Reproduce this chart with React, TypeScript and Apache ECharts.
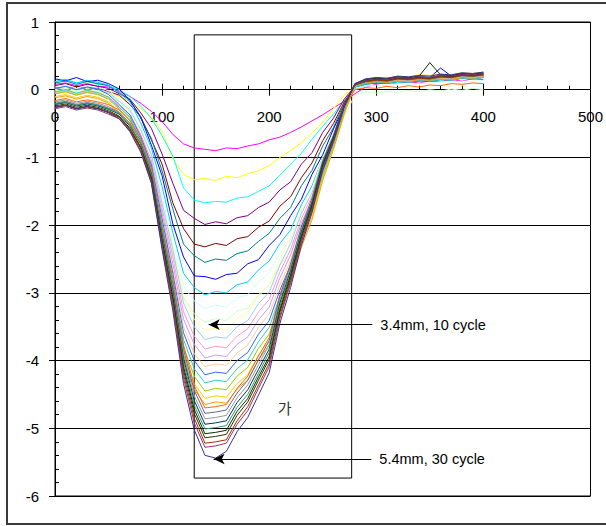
import React, { useEffect, useRef } from "react";
import * as echarts from "echarts";

// x positions shared by every curve
const xs = [0,10,20,30,40,50,60,70,80,90,100,110,120,130,140,150,160,170,180,190,200,210,220,230,240,250,260,270,280,290,300,310,320,330,340,350,360,370,380,390,400];

const c01 = [0.08,0.1,0.06,0.09,0.05,0.04,-0.02,-0.1,-0.2,-0.32,-0.47,-0.66,-0.8,-0.86,-0.88,-0.9,-0.86,-0.87,-0.83,-0.8,-0.74,-0.7,-0.63,-0.55,-0.46,-0.37,-0.27,-0.17,-0.06,0.04,0.08,0.11,0.09,0.12,0.1,0.13,0.12,0.15,0.13,0.16,0.15];
const c02 = [0.0,-0.04,0.02,-0.03,-0.02,-0.06,-0.1,-0.18,-0.28,-0.4,-0.62,-1.02,-1.25,-1.33,-1.31,-1.34,-1.28,-1.3,-1.24,-1.2,-1.12,-1.0,-0.9,-0.78,-0.64,-0.48,-0.28,-0.08,0.04,0.1,0.12,0.15,0.13,0.17,0.16,0.19,0.18,0.21,0.19,0.22,0.2];
const c03 = [0.12,0.15,0.1,0.13,0.08,0.06,0.0,-0.1,-0.24,-0.42,-0.68,-0.98,-1.45,-1.63,-1.67,-1.65,-1.66,-1.6,-1.58,-1.5,-1.42,-1.26,-1.1,-0.94,-0.73,-0.54,-0.36,-0.16,0.0,0.08,0.1,0.12,0.1,0.14,0.12,0.15,0.14,0.17,0.16,0.19,0.18];
const c04 = [0.06,0.09,0.04,0.08,0.05,0.02,-0.06,-0.14,-0.34,-0.57,-0.95,-1.38,-1.78,-1.9,-1.99,-1.95,-1.98,-1.89,-1.86,-1.74,-1.66,-1.48,-1.36,-1.1,-0.93,-0.63,-0.42,-0.14,0.05,0.1,0.12,0.11,0.14,0.13,0.16,0.15,0.17,0.16,0.2,0.18,0.21];
const c05 = [0.03,0.0,0.05,0.01,0.03,-0.03,-0.08,-0.22,-0.4,-0.74,-1.1,-1.67,-2.05,-2.28,-2.32,-2.27,-2.3,-2.2,-2.17,-2.03,-1.94,-1.72,-1.58,-1.3,-1.08,-0.75,-0.5,-0.18,0.04,0.09,0.11,0.1,0.13,0.12,0.15,0.14,0.16,0.18,0.17,0.2,0.19];
const c06 = [0.1,0.13,0.08,0.12,0.09,0.06,-0.04,-0.15,-0.42,-0.72,-1.2,-1.76,-2.28,-2.45,-2.55,-2.5,-2.52,-2.42,-2.38,-2.24,-2.12,-1.9,-1.74,-1.42,-1.19,-0.83,-0.56,-0.2,0.04,0.08,0.1,0.09,0.12,0.11,0.13,0.12,0.15,0.14,0.17,0.16,0.18];
const c07 = [0.16,0.13,0.18,0.12,0.14,0.09,0.01,-0.16,-0.4,-0.82,-1.27,-1.98,-2.47,-2.75,-2.76,-2.8,-2.73,-2.71,-2.57,-2.51,-2.3,-2.14,-1.86,-1.62,-1.25,-0.96,-0.58,-0.25,0.05,0.12,0.1,0.14,0.12,0.16,0.14,0.18,0.32,0.2,0.19,0.22,0.21];
const c08 = [0.12,0.15,0.1,0.14,0.11,0.07,-0.05,-0.18,-0.49,-0.86,-1.43,-2.11,-2.71,-2.92,-3.03,-2.98,-3.0,-2.88,-2.84,-2.66,-2.53,-2.27,-2.07,-1.7,-1.42,-1.0,-0.68,-0.26,0.03,0.09,0.11,0.1,0.13,0.12,0.15,0.13,0.16,0.15,0.18,0.17,0.19];
const c09 = [0.04,0.07,0.02,0.06,0.03,-0.01,-0.13,-0.27,-0.59,-0.98,-1.57,-2.27,-2.9,-3.12,-3.23,-3.18,-3.21,-3.07,-3.03,-2.84,-2.7,-2.41,-2.21,-1.82,-1.52,-1.06,-0.73,-0.28,0.02,0.05,0.07,0.06,0.09,0.08,0.1,0.09,0.12,0.11,0.13,0.12,0.14];
const c10 = [0.0,0.03,-0.02,0.02,-0.01,-0.06,-0.18,-0.33,-0.67,-1.07,-1.69,-2.43,-3.08,-3.31,-3.43,-3.38,-3.41,-3.27,-3.23,-3.03,-2.88,-2.59,-2.38,-1.98,-1.66,-1.19,-0.85,-0.4,-0.08,-0.03,-0.05,-0.02,-0.04,-0.01,-0.03,0.0,-0.02,0.01,-0.01,0.02,0.0];
const c11 = [-0.02,0.01,-0.04,0.0,-0.03,-0.08,-0.21,-0.33,-0.61,-0.95,-1.63,-2.3,-3.04,-3.39,-3.56,-3.52,-3.55,-3.38,-3.29,-3.05,-2.89,-2.5,-2.19,-1.77,-1.46,-1.0,-0.66,-0.26,0.05,0.12,0.14,0.13,0.16,0.15,0.18,0.17,0.2,0.19,0.22,0.21,0.23];
const c12 = [0.02,0.05,0.0,0.04,0.01,-0.04,-0.17,-0.3,-0.59,-0.96,-1.67,-2.36,-3.15,-3.5,-3.69,-3.65,-3.67,-3.5,-3.41,-3.16,-2.99,-2.59,-2.27,-1.83,-1.52,-1.04,-0.69,-0.27,0.05,0.1,0.12,0.11,0.14,0.13,0.15,0.14,0.17,0.16,0.19,0.18,0.2];
const c13 = [-0.04,-0.01,-0.06,-0.02,-0.05,-0.11,-0.24,-0.37,-0.66,-1.04,-1.76,-2.47,-3.28,-3.64,-3.83,-3.79,-3.81,-3.64,-3.53,-3.28,-3.1,-2.69,-2.36,-1.91,-1.57,-1.08,-0.71,-0.28,0.05,0.1,0.12,0.11,0.13,0.12,0.15,0.14,0.16,0.15,0.18,0.17,0.19];
const c14 = [-0.06,-0.03,-0.08,-0.04,-0.07,-0.13,-0.27,-0.4,-0.7,-1.09,-1.83,-2.57,-3.39,-3.76,-3.96,-3.92,-3.94,-3.76,-3.65,-3.4,-3.21,-2.78,-2.44,-1.97,-1.63,-1.12,-0.74,-0.3,0.05,0.14,0.16,0.15,0.17,0.16,0.19,0.18,0.2,0.19,0.22,0.21,0.23];
const c15 = [-0.05,-0.02,-0.07,-0.03,-0.06,-0.12,-0.26,-0.41,-0.71,-1.12,-1.89,-2.65,-3.5,-3.9,-4.09,-4.05,-4.07,-3.89,-3.77,-3.51,-3.31,-2.88,-2.52,-2.04,-1.68,-1.16,-0.77,-0.31,0.05,0.11,0.13,0.12,0.14,0.13,0.16,0.15,0.17,0.16,0.19,0.18,0.2];
const c16 = [0.02,0.05,0.0,0.04,0.01,-0.07,-0.22,-0.37,-0.69,-1.11,-1.91,-2.71,-3.59,-4.0,-4.21,-4.17,-4.19,-4.0,-3.88,-3.61,-3.41,-2.96,-2.59,-2.1,-1.73,-1.2,-0.79,-0.32,0.07,0.14,0.16,0.15,0.18,0.17,0.19,0.18,0.21,0.2,0.23,0.22,0.24];
const c17 = [-0.03,0.0,-0.05,-0.01,-0.04,-0.11,-0.26,-0.41,-0.74,-1.17,-1.98,-2.8,-3.69,-4.12,-4.33,-4.29,-4.31,-4.12,-3.99,-3.72,-3.51,-3.05,-2.67,-2.17,-1.78,-1.24,-0.81,-0.33,0.05,0.09,0.11,0.1,0.12,0.11,0.14,0.13,0.15,0.14,0.17,0.16,0.18];
const c18 = [-0.06,-0.03,-0.08,-0.04,-0.07,-0.14,-0.29,-0.44,-0.78,-1.22,-2.05,-2.89,-3.8,-4.23,-4.45,-4.41,-4.43,-4.23,-4.1,-3.82,-3.61,-3.14,-2.74,-2.23,-1.83,-1.28,-0.84,-0.34,0.05,0.12,0.14,0.13,0.16,0.15,0.17,0.16,0.19,0.18,0.21,0.2,0.22];
const c19 = [-0.1,-0.07,-0.12,-0.08,-0.11,-0.18,-0.34,-0.49,-0.83,-1.28,-2.13,-2.98,-3.91,-4.34,-4.56,-4.52,-4.54,-4.34,-4.21,-3.92,-3.7,-3.22,-2.81,-2.29,-1.88,-1.31,-0.86,-0.36,0.08,0.16,0.18,0.17,0.2,0.19,0.22,0.21,0.23,0.22,0.25,0.24,0.26];
const c20 = [-0.12,-0.09,-0.14,-0.1,-0.13,-0.2,-0.35,-0.52,-0.86,-1.32,-2.18,-3.04,-3.98,-4.42,-4.65,-4.61,-4.63,-4.42,-4.29,-3.99,-3.77,-3.28,-2.87,-2.33,-1.92,-1.34,-0.88,-0.36,0.06,0.1,0.12,0.11,0.13,0.12,0.15,0.14,0.16,0.15,0.18,0.17,0.19];
const c21 = [-0.16,-0.13,-0.18,-0.15,-0.18,-0.22,-0.3,-0.46,-0.72,-1.15,-2.02,-2.8,-3.77,-4.37,-4.7,-4.68,-4.65,-4.41,-4.23,-3.93,-3.66,-3.03,-2.57,-2.04,-1.62,-1.08,-0.72,-0.25,0.0,0.03,0.02,0.05,0.03,0.06,0.04,0.07,0.06,0.09,0.08,0.1,0.09];
const c22 = [-0.2,-0.17,-0.22,-0.19,-0.22,-0.27,-0.33,-0.5,-0.76,-1.19,-2.07,-2.87,-3.84,-4.44,-4.78,-4.76,-4.73,-4.48,-4.29,-3.99,-3.71,-3.05,-2.58,-2.03,-1.6,-1.05,-0.67,-0.23,0.07,0.13,0.15,0.14,0.17,0.16,0.18,0.17,0.2,0.19,0.22,0.21,0.23];
const c23 = [-0.18,-0.15,-0.2,-0.17,-0.2,-0.25,-0.33,-0.49,-0.75,-1.19,-2.09,-2.91,-3.91,-4.52,-4.86,-4.84,-4.81,-4.55,-4.36,-4.06,-3.77,-3.1,-2.62,-2.07,-1.63,-1.07,-0.68,-0.22,0.07,0.11,0.13,0.12,0.15,0.14,0.16,0.15,0.18,0.17,0.2,0.19,0.21];
const c24 = [-0.22,-0.19,-0.24,-0.21,-0.24,-0.29,-0.36,-0.54,-0.8,-1.24,-2.14,-2.97,-3.97,-4.59,-4.94,-4.92,-4.89,-4.62,-4.43,-4.13,-3.83,-3.15,-2.67,-2.1,-1.66,-1.08,-0.69,-0.22,0.07,0.14,0.16,0.15,0.18,0.17,0.19,0.18,0.21,0.2,0.23,0.22,0.24];
const c25 = [-0.21,-0.18,-0.23,-0.2,-0.23,-0.28,-0.35,-0.53,-0.8,-1.26,-2.17,-3.01,-4.02,-4.66,-5.01,-4.99,-4.96,-4.69,-4.5,-4.19,-3.88,-3.2,-2.71,-2.13,-1.68,-1.1,-0.7,-0.23,0.07,0.12,0.14,0.13,0.16,0.15,0.17,0.16,0.19,0.18,0.21,0.2,0.22];
const c26 = [-0.26,-0.23,-0.28,-0.25,-0.28,-0.33,-0.4,-0.59,-0.85,-1.3,-2.23,-3.07,-4.09,-4.72,-5.08,-5.06,-5.03,-4.75,-4.56,-4.24,-3.94,-3.25,-2.74,-2.16,-1.7,-1.11,-0.72,-0.24,0.09,0.15,0.17,0.16,0.19,0.18,0.2,0.4,0.22,0.21,0.24,0.23,0.25];
const c27 = [-0.24,-0.21,-0.26,-0.23,-0.26,-0.31,-0.39,-0.57,-0.85,-1.31,-2.25,-3.09,-4.14,-4.78,-5.14,-5.12,-5.09,-4.81,-4.61,-4.29,-3.98,-3.28,-2.78,-2.19,-1.72,-1.13,-0.72,-0.24,0.07,0.13,0.15,0.14,0.17,0.16,0.18,0.17,0.2,0.19,0.22,0.21,0.23];
const c28 = [-0.26,-0.23,-0.28,-0.25,-0.28,-0.33,-0.41,-0.59,-0.87,-1.34,-2.29,-3.15,-4.2,-4.85,-5.22,-5.2,-5.17,-4.89,-4.68,-4.36,-4.04,-3.34,-2.82,-2.23,-1.75,-1.15,-0.74,-0.24,0.07,0.12,0.14,0.13,0.16,0.15,0.17,0.16,0.19,0.18,0.21,0.2,0.22];
const c29 = [-0.28,-0.25,-0.3,-0.27,-0.3,-0.36,-0.43,-0.61,-0.9,-1.37,-2.32,-3.2,-4.26,-4.92,-5.28,-5.26,-5.22,-4.94,-4.74,-4.41,-4.09,-3.38,-2.85,-2.25,-1.77,-1.16,-0.75,-0.25,0.07,0.14,0.16,0.15,0.18,0.17,0.19,0.18,0.21,0.2,0.23,0.22,0.24];
const c30 = [-0.26,-0.23,-0.28,-0.25,-0.28,-0.34,-0.43,-0.62,-0.92,-1.38,-2.36,-3.26,-4.34,-5.02,-5.4,-5.44,-5.34,-5.05,-4.84,-4.51,-4.18,-3.45,-2.92,-2.3,-1.81,-1.19,-0.77,-0.26,0.09,0.16,0.18,0.17,0.2,0.19,0.21,0.2,0.23,0.22,0.25,0.24,0.26];

const curves = [c01,c02,c03,c04,c05,c06,c07,c08,c09,c10,c11,c12,c13,c14,c15,c16,c17,c18,c19,c20,c21,c22,c23,c24,c25,c26,c27,c28,c29,c30];
const curveColors = ["#FF00FF","#FFFF00","#00FFFF","#800080","#800000","#008080","#0000FF","#00CCFF","#CCFFFF","#CCFFCC","#FFFF99","#99CCFF","#FF99CC","#CC99FF","#FFCC99","#3366FF","#33CCCC","#99CC00","#FFCC00","#FF9900","#FF6600","#666699","#969696","#003366","#339966","#003300","#333300","#993300","#993366","#333399"];

// axes
const xMin = 0, xMax = 500, xStep = 100;
const yMin = -6, yMax = 1, yStep = 1;

// annotations (data coordinates)
const boxX = [130, 277];
const boxY = [0.81, -5.735];
const arrowLabels = ["3.4mm, 10 cycle", "5.4mm, 30 cycle"];
const arrowStartX = [296.3, 295.4];
const arrowEndX = [143.5, 148.1];
const arrowY = [-3.47, -5.454];
const arrowLabelPad = [9, 3];
const regionLabel = "가";
const regionLabelPos = [214.5, -4.69];

const FONT = "'Liberation Sans', Arial, sans-serif";
const GRID_H = 474;

export default function App() {
  const ref = useRef<HTMLDivElement>(null);
  useEffect(() => {
    if (!ref.current) return;
    const chart = echarts.init(ref.current, undefined, { renderer: "svg" });
    // x axis sits on y = 0: offset it up from the grid bottom
    const xAxisOffset = -GRID_H * (0 - yMin) / (yMax - yMin);
    const series: any[] = curves.map((vals, i) => ({
      type: "line",
      name: String(i + 1),
      data: xs.map((x, j) => [x, vals[j]]),
      showSymbol: false,
      symbol: "none",
      silent: true,
      lineStyle: { width: 1, color: curveColors[i] },
      itemStyle: { color: curveColors[i] },
      z: 2,
    }));
    series.push({
      type: "line",
      name: "annotations",
      data: [],
      silent: true,
      z: 5,
      markArea: {
        silent: true,
        itemStyle: { color: "rgba(0,0,0,0)", borderColor: "#000", borderWidth: 1 },
        label: { show: false },
        data: [[{ coord: [boxX[0], boxY[0]] }, { coord: [boxX[1], boxY[1]] }]],
      },
      markLine: {
        silent: true,
        symbol: ["none", "arrow"],
        symbolSize: [8, 11],
        lineStyle: { color: "#000", width: 1, type: "solid" },
        label: {
          show: true,
          position: "start",
          distance: 8,
          formatter: "{b}",
          fontSize: 14.5,
          fontFamily: FONT,
          color: "#000",
        },
        data: arrowLabels.map((name, i) => [
          { name, coord: [arrowStartX[i], arrowY[i]], label: { padding: [arrowLabelPad[i], 0, 0, 0] } },
          { coord: [arrowEndX[i], arrowY[i]] },
        ]),
      },
      markPoint: {
        silent: true,
        symbol: "circle",
        symbolSize: 0,
        itemStyle: { color: "rgba(0,0,0,0)" },
        label: {
          show: true,
          position: "inside",
          formatter: regionLabel,
          fontSize: 15,
          color: "#333",
          fontFamily: "'Noto Sans CJK KR', sans-serif",
        },
        data: [{ coord: regionLabelPos, value: 0 }],
      },
    });
    chart.setOption({
      animation: false,
      backgroundColor: "#fff",
      textStyle: { fontFamily: FONT },
      graphic: [
        {
          type: "rect",
          silent: true,
          z: 100,
          shape: { x: 7, y: 3, width: 640, height: 521 },
          style: { fill: "none", stroke: "#3a3a3a", lineWidth: 2 },
        },
      ],
      grid: {
        left: 55,
        top: 22,
        width: 540,
        height: GRID_H,
        show: true,
        borderColor: "#000",
        borderWidth: 1,
        backgroundColor: "transparent",
      },
      xAxis: [
        {
          type: "value",
          min: xMin,
          max: xMax,
          interval: xStep,
          position: "bottom",
          offset: xAxisOffset,
          axisLine: { show: true, onZero: false, lineStyle: { color: "#000", width: 1 } },
          axisTick: { show: true, inside: true, length: 6, lineStyle: { color: "#000" } },
          minorTick: { show: true, splitNumber: 5, length: 4, lineStyle: { color: "#000" } },
          axisLabel: { show: true, margin: 19, fontSize: 15, color: "#000", fontFamily: FONT },
          splitLine: { show: false },
        },
        {
          type: "value",
          min: xMin,
          max: xMax,
          interval: xStep,
          position: "bottom",
          offset: xAxisOffset,
          axisLine: { show: false, onZero: false },
          axisTick: { show: true, inside: false, length: 6, lineStyle: { color: "#000" } },
          axisLabel: { show: false },
          splitLine: { show: false },
        },
      ],
      yAxis: [
        {
          type: "value",
          min: yMin,
          max: yMax,
          interval: yStep,
          position: "left",
          axisLine: { show: true, onZero: false, lineStyle: { color: "#000" } },
          axisTick: { show: true, inside: false, length: 6, lineStyle: { color: "#000" } },
          axisLabel: { show: true, margin: 16, fontSize: 15, color: "#000", fontFamily: FONT },
          splitLine: { show: true, lineStyle: { color: "#000", width: 1 } },
        },
        {
          type: "value",
          min: yMin,
          max: yMax,
          interval: yStep,
          position: "left",
          axisLine: { show: false, onZero: false },
          axisTick: { show: false, inside: true },
          minorTick: { show: true, splitNumber: 5, length: 4, lineStyle: { color: "#000" } },
          axisLabel: { show: false },
          splitLine: { show: false },
        },
      ],
      series,
    });
    return () => chart.dispose();
  }, []);
  return (
    <div
      ref={ref}
      style={{ position: "absolute", left: 0, top: 0, width: 606, height: 526 }}
    />
  );
}
